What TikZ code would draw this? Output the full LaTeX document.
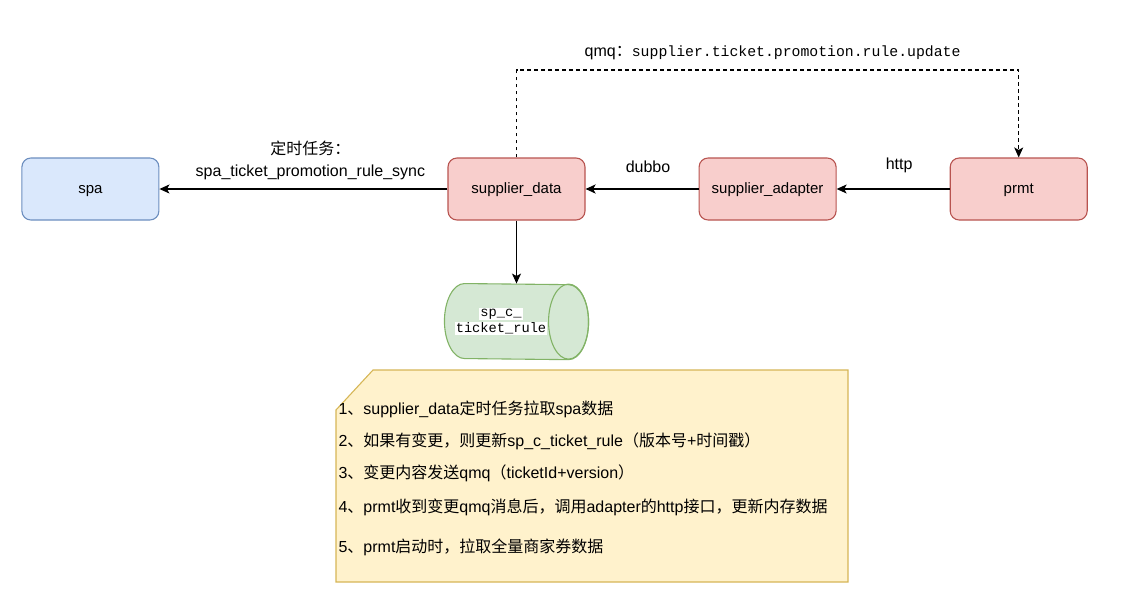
\documentclass[tikz,border=0pt]{standalone}
\usepackage{fontspec}
\setmainfont{Liberation Sans}
\setmonofont{Liberation Mono}
\newfontfamily\cjk{Noto Sans CJK SC}
\usepackage{tikz}
\usetikzlibrary{arrows.meta,positioning,calc}
\usepackage{xcolor}
\definecolor{blueFill}{HTML}{DAE8FC}
\definecolor{blueLine}{HTML}{6C8EBF}
\definecolor{redFill}{HTML}{F8CECC}
\definecolor{redLine}{HTML}{B85450}
\definecolor{greenFill}{HTML}{D5E8D4}
\definecolor{greenLine}{HTML}{82B366}
\definecolor{noteFill}{HTML}{FFF2CC}
\definecolor{noteLine}{HTML}{D6B656}

\begin{document}
\begin{tikzpicture}[x=1pt,y=-1pt,>={Stealth[length=10pt,width=9pt,inset=2.5pt]},line width=1.1pt,node distance=113pt]
\tikzstyle{box} = [draw, rounded corners=9pt, minimum width=137pt, minimum height=62pt, inner sep=0pt, text height=8pt, text depth=0pt, font=\fontsize{15}{18}\selectfont]
\tikzstyle{svc} = [box, fill=redFill, draw=redLine]
\tikzstyle{ext} = [box, fill=blueFill, draw=blueLine]
\tikzstyle{lbl} = [font=\fontsize{16}{22}\selectfont, align=center]
\tikzstyle{noteline} = [anchor=base west, inner sep=0pt, font=\fontsize{16}{19}\selectfont]
\useasboundingbox (0,0) rectangle (1125,606);

\node[svc]    (sd) at (516.5,189)       {supplier\_data};
\node[svc]    (sa) [right=of sd]        {supplier\_adapter};
\node[svc]    (pr) [right=of sa]        {prmt};
\node[ext]    (spa) [left=288pt of sd]  {spa};
\node[minimum width=143pt, minimum height=75pt, inner sep=0pt]
              (db) [below=63pt of sd]   {};

% table as a lying cylinder
\draw[fill=greenFill, draw=greenLine]
  ($(db.north west)+(20,0)$) arc[start angle=-90, end angle=-270, x radius=20, y radius=37.5]
  -- ($(db.south east)+(-20,0)$) arc[start angle=90, end angle=-90, x radius=20, y radius=37.5] -- cycle;
\draw[draw=greenLine] ($(db.east)+(-20,0)$) ellipse[x radius=20, y radius=37.5];
\node[font=\fontsize{13.7}{19}\selectfont\ttfamily, align=center, inner sep=0pt]
              (dbtext) [xshift=-15.5pt] at (db.center)
              {\setlength{\fboxsep}{1pt}\colorbox{white}{sp\_c\_}\\[-3pt]\setlength{\fboxsep}{1pt}\colorbox{white}{ticket\_rule}};

\coordinate (qtop) at (sd.north |- 0,70);
\draw[->] (sd) -- node[lbl, above=5pt, xshift=7pt] {{\cjk 定时任务：}\\spa\_ticket\_promotion\_rule\_sync} (spa);
\draw[->, line width=2.2pt] (sa) -- node[lbl, above=12pt, xshift=6pt] {dubbo} (sd);
\draw[->] (pr) -- node[lbl, above=12pt, xshift=6pt] {http} (sa);
\draw[->, dash pattern=on 3.5pt off 3.5pt] (sd.north) -- (qtop) -| node[pos=0.25, above=6pt, xshift=5pt, font=\fontsize{16}{19}\selectfont]
      {qmq{\cjk ：}\fontsize{14.8}{19}\selectfont\ttfamily supplier.ticket.promotion.rule.update} (pr.north);
\draw[->] (sd) -- (db);

% note
\draw[fill=noteFill, draw=noteLine] (336,410) -- (373,370) -- (848,370) -- (848,582) -- (336,582) -- cycle;
\node[noteline] (s1) at (338,414) {1{\cjk 、}supplier\_data{\cjk 定时任务拉取}spa{\cjk 数据}};
\node[noteline] (s2) at (338,446) {2{\cjk 、如果有变更，则更新}sp\_c\_ticket\_rule{\cjk （版本号}+{\cjk 时间戳）}};
\node[noteline] (s3) at (338,478) {3{\cjk 、变更内容发送}qmq{\cjk （}ticketId+version{\cjk ）}};
\node[noteline] (s4) at (338,512) {4{\cjk 、}prmt{\cjk 收到变更}qmq{\cjk 消息后，调用}adapter{\cjk 的}http{\cjk 接口，更新内存数据}};
\node[noteline] (s5) at (338,552) {5{\cjk 、}prmt{\cjk 启动时，拉取全量商家券数据}};
\end{tikzpicture}
\end{document}
